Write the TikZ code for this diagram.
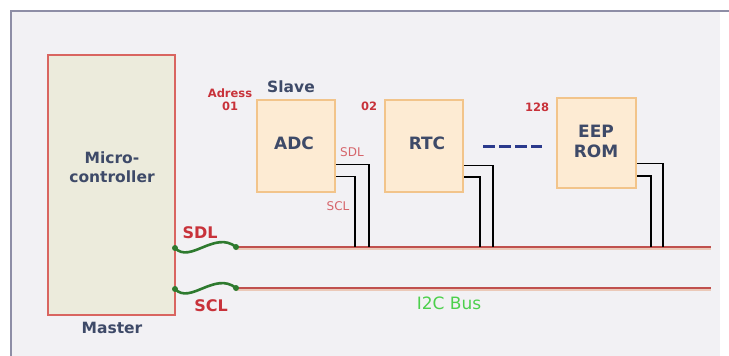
\documentclass[tikz,border=0pt]{standalone}
\usepackage{fontspec}
\setmainfont{DejaVu Sans}
\usetikzlibrary{calc}
\definecolor{framec}{HTML}{8E8EA6}
\definecolor{bgc}{HTML}{F2F1F4}
\definecolor{mcfill}{HTML}{ECEBDC}
\definecolor{mcborder}{HTML}{D96560}
\definecolor{slfill}{HTML}{FDEBD3}
\definecolor{slborder}{HTML}{F2C48A}
\definecolor{txtc}{HTML}{3E4A68}
\definecolor{redt}{HTML}{C8323A}
\definecolor{busc}{HTML}{C0504D}
\definecolor{busshadow}{HTML}{EBC9B8}
\definecolor{wavec}{HTML}{2E7A2E}
\definecolor{i2cc}{HTML}{4CD04C}
\definecolor{dashc}{HTML}{2B3A8C}
\begin{document}
\begin{tikzpicture}[x=1pt,y=-1pt,
  mcbox/.style={draw=mcborder, fill=mcfill, line width=2pt, minimum width=127pt, minimum height=260pt, inner sep=0pt},
  slavebox/.style={draw=slborder, fill=slfill, line width=2pt, minimum width=78pt, minimum height=92pt, inner sep=0pt},
  boxtext/.style={font=\bfseries\fontsize{17}{20}\selectfont, text=txtc, inner sep=0pt, align=center},
  lbl/.style={font=\bfseries\fontsize{15.5}{18.5}\selectfont, text=txtc, inner sep=0pt, align=center},
  addr/.style={font=\bfseries\fontsize{11.5}{13.5}\selectfont, text=redt, inner sep=0pt, align=center},
  pin/.style={font=\fontsize{12}{13}\selectfont, text=redt!75, inner sep=0pt},
  sig/.style={font=\bfseries\fontsize{16}{18}\selectfont, text=redt, inner sep=0pt},
  wire/.style={black, line width=1.4pt},
  busline/.style={busc, line width=2.2pt},
  wave/.style={wavec, line width=2.6pt, line cap=round},
  dot/.style={circle, fill=wavec, minimum size=6pt, inner sep=0pt}
]
\useasboundingbox (0,0) rectangle (729,356);
\fill[white] (0,0) rectangle (729,356);
\fill[bgc] (11,11) rectangle (720,356);
\draw[framec, line width=1.6pt] (11,356) -- (11,11) -- (729,11);

% master
\node[mcbox] (mc) at (111.5,185) {};
\node[lbl] (mctext) at (112,167) {Micro-\\controller};
\node[lbl] (master) at (112,328) {Master};

% slaves
\node[slavebox] (adc) at (296,146) {};
\node[slavebox] (rtc) at (424,146) {};
\node[slavebox, minimum width=79pt, minimum height=90pt] (eep) at (596.5,143) {};
\node[boxtext] (adct) at (294,143.5) {ADC};
\node[boxtext] (rtct) at (427,143.5) {RTC};
\node[boxtext] (eept) at (596,141) {EEP\\ROM};

\node[addr] (adress) at (230,99.5) {Adress\\01};
\node[lbl] (slave) at (291,87) {Slave};
\node[addr] (a02) at (369,106.5) {02};
\node[addr] (a128) at (537,107) {128};
\node[pin] (psdl) at (352,152) {SDL};
\node[pin] (pscl) at (338,206) {SCL};

% bus coordinates
\coordinate (sdlL) at (175,248);
\coordinate (sdlR) at (236,247);
\coordinate (sdlE) at (711,247);
\coordinate (sclL) at (175,289);
\coordinate (sclR) at (236,288);
\coordinate (sclE) at (711,288);

% bus lines
\draw[busshadow, line width=2pt] ([yshift=-2pt]sdlR) -- ([yshift=-2pt]sdlE);
\draw[busshadow, line width=2pt] ([yshift=-2pt]sclR) -- ([yshift=-2pt]sclE);
\draw[busline] (sdlR) -- (sdlE);
\draw[busline] (sclR) -- (sclE);

% slave wires
\coordinate (adcA) at (369,247);
\coordinate (adcB) at (355,247);
\coordinate (rtcA) at (493,247);
\coordinate (rtcB) at (480,247);
\coordinate (eepA) at (663,247);
\coordinate (eepB) at (651,247);
\draw[wire] ([yshift=-18.5pt]adc.east) -| (adcA);
\draw[wire] ([yshift=-30.5pt]adc.east) -| (adcB);
\draw[wire] ([yshift=-19.5pt]rtc.east) -| (rtcA);
\draw[wire] ([yshift=-31pt]rtc.east) -| (rtcB);
\draw[wire] ([yshift=-20.5pt]eep.east) -| (eepA);
\draw[wire] ([yshift=-33pt]eep.east) -| (eepB);

% green waves
\draw[wave] (sdlL) .. controls (190,264) and (215,230) .. (sdlR);
\draw[wave] (sclL) .. controls (190,305) and (215,271) .. (sclR);
\node[dot] (d1) at (sdlL) {};
\node[dot] (d2) at (sdlR) {};
\node[dot] (d3) at (sclL) {};
\node[dot] (d4) at (sclR) {};

\node[sig] (sdllbl) at (200,233) {SDL};
\node[sig] (scllbl) at (211,306) {SCL};
\node[font=\fontsize{17}{19}\selectfont, text=i2cc, inner sep=0pt] (i2c) at (449,303) {I2C Bus};

% dashes
\draw[dashc, line width=3pt, dash pattern=on 12pt off 4pt] ($(rtc.east)+(19,0)$) -- ($(eep.west)+(-14,3)$);
\end{tikzpicture}
\end{document}
